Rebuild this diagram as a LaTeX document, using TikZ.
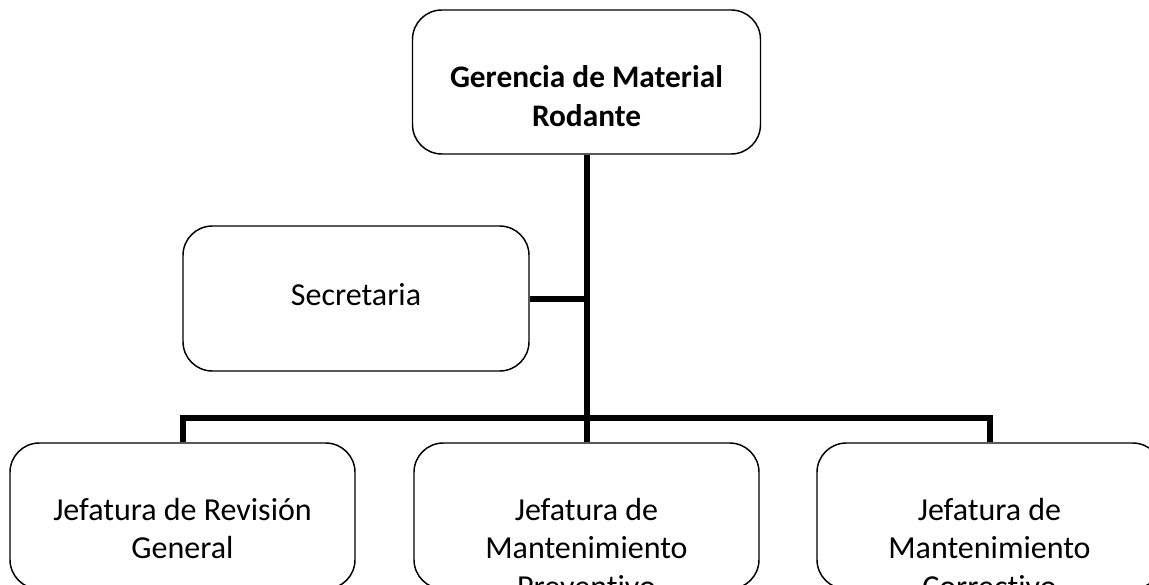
\documentclass[tikz,border=0pt]{standalone}
\usepackage{fontspec}
\setmainfont[Ligatures=NoCommon]{Carlito}
% centred lines whose reference point is the first baseline
\newcommand{\stacklines}[1]{\begin{tabular}[t]{@{}c@{}}#1\end{tabular}}
\begin{document}
\begin{tikzpicture}[x=0.75pt,y=-0.75pt,
  box/.style={draw=black, line width=1.1pt, rounded corners=22pt, fill=white,
    minimum width=258.75pt, minimum height=109.5pt, inner sep=0pt,
    font=\fontsize{24pt}{29pt}\selectfont},
  conn/.style={draw=black, line width=4.5pt, line join=miter}
]
\useasboundingbox (0,0) rectangle (1149,585);
\clip (0,0) rectangle (1149,585);

% head of the department
\node[box, minimum width=261pt, minimum height=108pt,
      font=\fontsize{23.5pt}{29pt}\selectfont\bfseries,
      text height=39pt, text depth=30pt] (ger) at (586.5,82)
  {\stacklines{Gerencia de Material\\Rodante}};

% staff position
\node[box, minimum width=259.5pt, minimum height=108.75pt,
      text height=16pt, text depth=6.25pt] (sec) at (356,298.5) {Secretaria};

% subordinate units
\node[box, text height=20pt, text depth=14pt] (jrg) at (182.5,516)
  {\stacklines{Jefatura de Revisión\\General}};
\node[box, text height=20pt, text depth=14pt] (jmp) at (586.5,516)
  {\stacklines{Jefatura de\\Mantenimiento\\Preventivo}};
\node[box, text height=20pt, text depth=14pt] (jmc) at (989.5,516)
  {\stacklines{Jefatura de\\Mantenimiento\\Correctivo}};

% connectors
\coordinate (bar) at (586.5,418);
\draw[conn] (ger.south) -- (jmp.north);
\draw[conn] (jrg.north) |- (bar) -| (jmc.north);
\draw[conn] (sec.east) -- (sec.east -| ger.south);
\end{tikzpicture}
\end{document}
